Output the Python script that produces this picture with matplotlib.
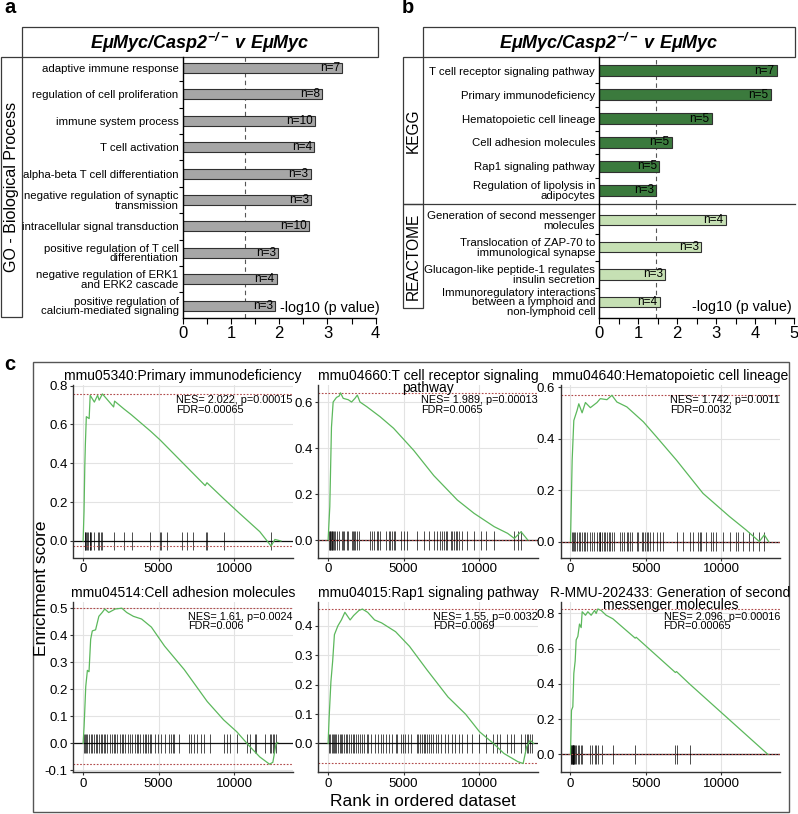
import numpy as np
import matplotlib
matplotlib.use("Agg")
import matplotlib.pyplot as plt
from matplotlib.patches import Rectangle
from matplotlib.ticker import FormatStrFormatter

plt.rcParams['font.family'] = ['Liberation Sans', 'DejaVu Sans']
plt.rcParams['mathtext.fontset'] = 'custom'
plt.rcParams['mathtext.rm'] = 'Liberation Sans'
plt.rcParams['mathtext.it'] = 'Liberation Sans:italic'
plt.rcParams['mathtext.bf'] = 'Liberation Sans:bold'
plt.rcParams['mathtext.bfit'] = 'Liberation Sans:italic:bold'

# ------------------------------------------------------------------ data
comparison_title = r'$\mathbfit{EμMyc/Casp2^{-/-}\ v\ EμMyc}$'

go_group = "GO - Biological Process"
go_terms = ["adaptive immune response", "regulation of cell proliferation",
            "immune system process", "T cell activation",
            "alpha-beta T cell differentiation",
            "negative regulation of synaptic\ntransmission",
            "intracellular signal transduction",
            "positive regulation of T cell\ndifferentiation",
            "negative regulation of ERK1\nand ERK2 cascade",
            "positive regulation of\ncalcium-mediated signaling"]
go_logp = [3.30, 2.89, 2.74, 2.73, 2.65, 2.66, 2.62, 1.98, 1.95, 1.91]
go_n = [7, 8, 10, 4, 3, 3, 10, 3, 4, 3]
go_threshold = 1.3

kegg_group = "KEGG"
kegg_terms = ["T cell receptor signaling pathway", "Primary immunodeficiency",
              "Hematopoietic cell lineage", "Cell adhesion molecules",
              "Rap1 signaling pathway", "Regulation of lipolysis in\nadipocytes"]
kegg_logp = [4.55, 4.39, 2.88, 1.86, 1.54, 1.46]
kegg_n = [7, 5, 5, 5, 5, 3]

reactome_group = "REACTOME"
reactome_terms = ["Generation of second messenger\nmolecules",
                  "Translocation of ZAP-70 to\nimmunological synapse",
                  "Glucagon-like peptide-1 regulates\ninsulin secretion",
                  "Immunoregulatory interactions\nbetween a lymphoid and\nnon-lymphoid cell"]
reactome_logp = [3.24, 2.62, 1.68, 1.55]
reactome_n = [4, 3, 3, 4]
pathway_threshold = 1.45

xlabel_bar = "-log10 (p value)"
go_xticks = [0, 1, 2, 3, 4]
pw_xticks = [0, 1, 2, 3, 4, 5]

gsea_titles = ["mmu05340:Primary immunodeficiency",
               "mmu04660:T cell receptor signaling\npathway",
               "mmu04640:Hematopoietic cell lineage",
               "mmu04514:Cell adhesion molecules",
               "mmu04015:Rap1 signaling pathway",
               "R-MMU-202433: Generation of second\nmessenger molecules"]
gsea_stats = ["NES= 2.022, p=0.00015\nFDR=0.00065",
              "NES= 1.989, p=0.00013\nFDR=0.0065",
              "NES= 1.742, p=0.0011\nFDR=0.0032",
              "NES= 1.61, p=0.0024\nFDR=0.006",
              "NES= 1.55, p=0.0032\nFDR=0.0069",
              "NES= 2.096, p=0.00016\nFDR=0.00065"]

p1_rank = [0, 60, 110, 150, 213, 400, 468, 745, 958, 1064, 1277, 2021, 2085, 2700, 3190,
           4470, 5100, 8085, 8200, 9360, 10320, 11700, 12450, 12700, 13100]
p1_es = [0, 0.15, 0.38, 0.50, 0.64, 0.63, 0.75, 0.715, 0.75, 0.725, 0.757, 0.69, 0.72, 0.68,
         0.65, 0.565, 0.52, 0.285, 0.30, 0.214, 0.145, 0.048, -0.026, 0.008, 0.0]
p1_hits = [106, 150, 213, 260, 319, 426, 470, 532, 745, 960, 1021, 1170, 1277, 2021, 2723,
           3255, 4426, 5064, 5170, 5575, 6553, 6851, 7298, 8128, 8213, 9362, 12447]

p2_rank = [0, 111, 222, 333, 444, 555, 733, 822, 1000, 1333, 1555, 1778, 1933, 2111, 2555,
           3444, 4333, 5666, 7000, 8555, 9666, 11000, 11888, 12333, 12777, 13222]
p2_es = [0, 0.145, 0.49, 0.60, 0.61, 0.62, 0.626, 0.64, 0.616, 0.61, 0.60, 0.616, 0.63, 0.60,
         0.58, 0.536, 0.486, 0.39, 0.28, 0.174, 0.116, 0.058, 0.029, 0.007, 0.036, 0.0]
p2_hits = [67, 111, 156, 200, 244, 289, 333, 400, 444, 600, 733, 889, 1000, 1067, 1222, 1333,
           1555, 1622, 1711, 1800, 1889, 2067, 2778, 2889, 3066, 3222, 3333, 3444, 3844, 4000,
           4111, 4222, 4333, 4444, 4822, 5044, 5222, 5889, 6333, 6666, 7000, 7222, 7400, 7555,
           7666, 7777, 7889, 8111, 8222, 8333, 8444, 8555, 8666, 8889, 9222, 9666, 10111,
           10444, 11000, 12333, 12555, 12777]

p3_rank = [0, 110, 220, 440, 550, 770, 990, 1319, 1758, 1978, 2418, 2747, 3077, 3737, 4835,
           5715, 7033, 8792, 10550, 11649, 12528, 12858, 13144]
p3_es = [0, 0.316, 0.47, 0.51, 0.535, 0.50, 0.54, 0.52, 0.54, 0.555, 0.551, 0.568, 0.542,
         0.523, 0.465, 0.406, 0.316, 0.187, 0.097, 0.045, 0.0, 0.026, 0.0]
p3_hits = [110, 176, 220, 330, 440, 550, 659, 769, 879, 989, 1099, 1319, 1429, 1539, 1758,
           1868, 1934, 1978, 2088, 2198, 2308, 2418, 2528, 2638, 2748, 2857, 3297, 3407, 3517,
           3737, 3847, 3956, 4066, 4396, 4506, 4726, 4836, 4946, 5055, 5165, 5275, 5495, 5715,
           5935, 6154, 7034, 7473, 7913, 8133, 8462, 8572, 8682, 9012, 9342, 9451, 9671,
           10111, 10550, 10990, 11100, 11429, 11869, 12089, 12528, 12858]

p4_rank = [0, 65, 174, 283, 391, 500, 609, 826, 1043, 1261, 1435, 1696, 2130, 2565, 2891,
           3326, 3870, 4522, 5391, 6696, 8217, 9304, 10174, 11044, 11696, 12131, 12348, 12565,
           12783, 12892]
p4_es = [0, 0.062, 0.21, 0.27, 0.265, 0.385, 0.416, 0.42, 0.47, 0.484, 0.497, 0.484, 0.497,
         0.50, 0.484, 0.47, 0.46, 0.43, 0.36, 0.273, 0.155, 0.087, 0.043, -0.012, -0.05,
         -0.068, -0.077, -0.07, 0.0, 0.003]
p4_hits = [65, 130, 217, 283, 391, 500, 609, 717, 826, 935, 1043, 1152, 1261, 1370, 1478,
           1587, 1804, 1913, 2022, 2130, 2239, 2457, 2565, 2674, 2783, 3000, 3109, 3217, 3435,
           3543, 3652, 3761, 3978, 4087, 4196, 4304, 4413, 4522, 4739, 4957, 5174, 5391, 5717,
           5826, 5935, 6043, 6370, 7022, 7131, 7348, 7565, 7783, 8000, 8435, 9304, 9522, 9739,
           10174, 10826, 11043, 11370, 11478, 12022, 12348, 12457, 12565, 12674, 12783]

p5_rank = [0, 69, 185, 301, 417, 648, 880, 1111, 1458, 1690, 2037, 2268, 2616, 3079, 3542,
           4468, 5394, 6551, 7940, 9098, 10024, 10950, 11644, 12570, 12917, 13148, 13380, 13612]
p5_es = [0, 0.09, 0.21, 0.28, 0.37, 0.40, 0.42, 0.446, 0.42, 0.435, 0.452, 0.457, 0.446,
         0.42, 0.41, 0.38, 0.33, 0.25, 0.158, 0.10, 0.04, 0.0, -0.034, -0.062, -0.068,
         -0.011, 0.011, 0.0]
p5_hits = [69, 139, 232, 301, 370, 463, 532, 648, 764, 880, 949, 1042, 1158, 1273, 1389,
           1505, 1621, 1736, 1852, 1968, 2084, 2269, 2384, 2547, 2662, 2847, 3079, 3310, 3473,
           3658, 3820, 4005, 4236, 4468, 4584, 4815, 4977, 5116, 5278, 5510, 5857, 5973, 6088,
           6204, 6320, 6436, 6551, 6667, 6783, 6968, 7130, 7246, 7477, 7709, 7940, 8172, 8403,
           8635, 8866, 9214, 9561, 10024, 10487, 10950, 11181, 11413, 11876, 12107, 12339,
           12802, 13033, 13148, 13264, 13380, 13495]

p6_rank = [0, 66, 155, 221, 310, 376, 487, 597, 708, 774, 995, 1150, 1371, 1593, 1703, 1814,
           2035, 2367, 2809, 4291, 4358, 6958, 7034, 7897, 13095]
p6_es = [0, 0.25, 0.27, 0.46, 0.53, 0.65, 0.67, 0.74, 0.72, 0.81, 0.79, 0.81, 0.79, 0.817,
         0.80, 0.826, 0.817, 0.79, 0.77, 0.66, 0.665, 0.465, 0.47, 0.40, 0.0]
p6_hits = [44, 66, 88, 110, 133, 155, 177, 199, 221, 265, 310, 376, 487, 597, 708, 774, 1261,
           1438, 1593, 1703, 1814, 2101, 2809, 4291, 6958, 7034, 7897]

gsea_ranks = [p1_rank, p2_rank, p3_rank, p4_rank, p5_rank, p6_rank]
gsea_es = [p1_es, p2_es, p3_es, p4_es, p5_es, p6_es]
gsea_hits = [p1_hits, p2_hits, p3_hits, p4_hits, p5_hits, p6_hits]
gsea_yticks = [[0, 0.2, 0.4, 0.6, 0.8], [0, 0.2, 0.4, 0.6], [0, 0.2, 0.4, 0.6],
               [-0.1, 0, 0.1, 0.2, 0.3, 0.4, 0.5], [0, 0.1, 0.2, 0.3, 0.4],
               [0, 0.2, 0.4, 0.6, 0.8]]
rank_ticks = [0, 5000, 10000]

# ------------------------------------------------------------------ layout
W, H = 798, 814
fig = plt.figure(figsize=(W / 100, H / 100), dpi=100)


def px_axes(x0, y0, x1, y1):
    return fig.add_axes([x0 / W, 1 - y1 / H, (x1 - x0) / W, (y1 - y0) / H])


ov = px_axes(0, 0, W, H)
ov.set_xlim(0, W)
ov.set_ylim(H, 0)
ov.axis('off')
ov.patch.set_visible(False)
ov.set_zorder(-1)

box_kw = dict(fill=False, ec='#3a3a3a', lw=0.9)
# panel labels
ov.text(10, 13, 'a', fontsize=14.5, fontweight='bold', ha='center', va='baseline')
ov.text(408, 13, 'b', fontsize=14.5, fontweight='bold', ha='center', va='baseline')
ov.text(10, 370, 'c', fontsize=14.5, fontweight='bold', ha='center', va='baseline')

# panel a frames
ov.add_patch(Rectangle((22, 27), 356, 30, **box_kw))
ov.add_patch(Rectangle((0.6, 57), 21.4, 260, **box_kw))
ov.text(200, 43, comparison_title, fontsize=13, ha='center', va='center')
ov.text(11.5, 187, go_group, fontsize=11.5, rotation=90, ha='center', va='center')
ov.text(280, 308, xlabel_bar, fontsize=10.3, ha='left', va='center')

# panel b frames
ov.add_patch(Rectangle((423, 27), 372, 30, **box_kw))
ov.add_patch(Rectangle((403, 57), 20, 147, **box_kw))
ov.add_patch(Rectangle((403, 204), 20, 104, **box_kw))
ov.plot([423, 795], [204, 204], color='#3a3a3a', lw=0.9)
ov.text(609, 43, comparison_title, fontsize=13, ha='center', va='center')
ov.text(413, 130.5, kegg_group, fontsize=11.2, rotation=90, ha='center', va='center')
ov.text(413, 256, reactome_group, fontsize=11.2, rotation=90, ha='center', va='center')
ov.text(792, 307, xlabel_bar, fontsize=10.3, ha='right', va='center')

# panel c frame
ov.add_patch(Rectangle((33, 362), 756, 450, fill=False, ec='#555555', lw=1.0))
ov.text(42, 588, 'Enrichment score', fontsize=12.5, rotation=90, ha='center', va='center')
ov.text(423, 801, 'Rank in ordered dataset', fontsize=12.5, ha='center', va='center')


def bar_axes(ax, terms, vals, counts, color, height, thr, xmax, xticks, bottom=True):
    y = np.arange(len(terms))
    ax.barh(y, vals, height=height, color=color, edgecolor='#303030', linewidth=0.8)
    for yi, v, n in zip(y, vals, counts):
        ax.annotate(f'n={n}', (v, yi), xytext=(-1.5, 0), textcoords='offset points',
                    ha='right', va='center', fontsize=8.5)
    ax.axvline(thr, color='#555555', lw=0.8, ls=(0, (4, 3)), zorder=0.5)
    ax.set_xlim(0, xmax)
    ax.set_yticks(y)
    ax.set_yticklabels(terms, fontsize=8.2, linespacing=0.95)
    ax.set_yticks(y[:-1] + 0.5, minor=True)
    ax.tick_params(axis='y', which='major', length=0, pad=3)
    ax.tick_params(axis='y', which='minor', length=3, width=0.8)
    for s in ('top', 'right'):
        ax.spines[s].set_visible(False)
    ax.spines['left'].set_linewidth(1.0)
    ax.patch.set_visible(False)
    if bottom:
        ax.set_xticks(xticks)
        ax.set_xticks(np.arange(0.5, xmax, 1.0), minor=True)
        ax.tick_params(axis='x', which='both', length=4, width=0.8, labelsize=12, pad=2)
        ax.spines['bottom'].set_linewidth(1.0)
    else:
        ax.set_xticks([])
        ax.spines['bottom'].set_visible(False)


ax_a = px_axes(182.7, 57, 375.7, 318)
bar_axes(ax_a, go_terms, go_logp, go_n, '#a6a6a6', 0.38, go_threshold, 4, go_xticks)
ax_a.set_ylim(9.47, -0.42)

ax_k = px_axes(599.3, 57, 794.3, 204)
bar_axes(ax_k, kegg_terms, kegg_logp, kegg_n, '#3b7a3d', 0.43, pathway_threshold, 5, pw_xticks,
         bottom=False)
ax_k.set_ylim(5.57, -0.57)

ax_r = px_axes(599.3, 204, 794.3, 318)
bar_axes(ax_r, reactome_terms, reactome_logp, reactome_n, '#c6e0b4', 0.37, pathway_threshold, 5,
         pw_xticks)
ax_r.set_ylim(3.6, -0.59)

# ------------------------------------------------------------------ panel c
cols = [(73.3, 293), (318.3, 538), (560.7, 780)]
rows = [(385, 557.5), (601.7, 772.3)]
ylims = [(-0.085, 0.803), (-0.076, 0.674), (-0.062, 0.608),
         (-0.107, 0.524), (-0.098, 0.482), (-0.102, 0.867)]
for i in range(6):
    r, c = divmod(i, 3)
    ax = px_axes(cols[c][0], rows[r][0], cols[c][1], rows[r][1])
    y0, y1 = ylims[i]
    ax.set_xlim(-650, 13900)
    ax.set_ylim(y0, y1)
    ax.grid(True, color='#e3e3e3', lw=0.8)
    ax.set_axisbelow(True)
    es = np.array(gsea_es[i])
    ax.axhline(0, color='#111111', lw=0.9, zorder=1)
    h = 0.055 * (y1 - y0)
    ax.vlines(gsea_hits[i], -h, h, color='black', alpha=0.7, lw=0.7, zorder=2)
    ax.axhline(es.max(), color='#b04848', lw=0.8, ls=(0, (1.5, 1.5)), zorder=2)
    ax.axhline(es.min(), color='#b04848', lw=0.8, ls=(0, (1.5, 1.5)), zorder=2)
    ax.plot(gsea_ranks[i], es, color='#5cb85c', lw=0.9, zorder=3)
    ax.set_xticks(rank_ticks)
    ax.set_yticks(gsea_yticks[i])
    ax.yaxis.set_major_formatter(FormatStrFormatter('%.1f'))
    ax.tick_params(labelsize=9.5, length=2.5, width=0.8, color='#333333', pad=1.5)
    for s in ('top', 'right'):
        ax.spines[s].set_visible(False)
    for s in ('left', 'bottom'):
        ax.spines[s].set_color('#333333')
        ax.spines[s].set_linewidth(1.0)
    ax.text(0.5, 1.0 + (16 / 172), gsea_titles[i], transform=ax.transAxes, ha='center',
            va='top', fontsize=10, linespacing=0.8)
    ax.text(1.0, 0.94, gsea_stats[i], transform=ax.transAxes, ha='right', va='top',
            fontsize=7.8, linespacing=0.9, multialignment='left')

fig.savefig('out.png', dpi=100)
